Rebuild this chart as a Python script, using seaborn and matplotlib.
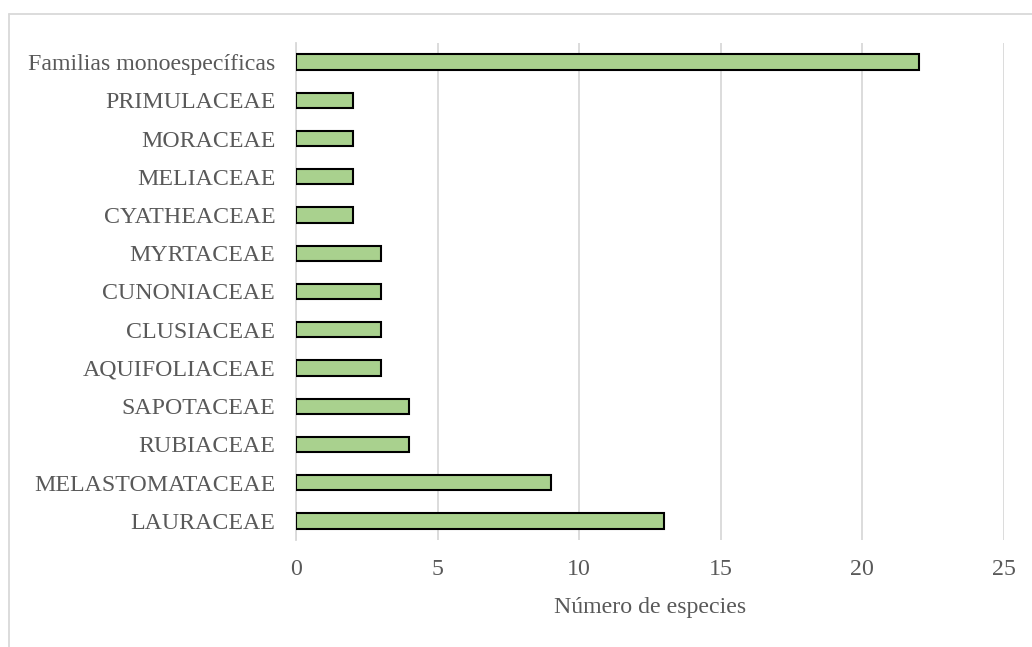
import matplotlib
matplotlib.use("Agg")
import matplotlib.pyplot as plt
from matplotlib.lines import Line2D
import seaborn as sns
import pandas as pd

familias = [
    "Familias monoespecíficas", "PRIMULACEAE", "MORACEAE", "MELIACEAE",
    "CYATHEACEAE", "MYRTACEAE", "CUNONIACEAE", "CLUSIACEAE",
    "AQUIFOLIACEAE", "SAPOTACEAE", "RUBIACEAE", "MELASTOMATACEAE",
    "LAURACEAE",
]
especies = [22, 2, 2, 2, 2, 3, 3, 3, 3, 4, 4, 9, 13]
ticks_x = [0, 5, 10, 15, 20, 25]

df = pd.DataFrame({"familia": familias, "especies": especies})

sns.set_theme(style="white")
plt.rcParams["font.family"] = ["Liberation Serif", "DejaVu Serif"]
texto = "#595959"
rejilla = "#d9d9d9"

W, H = 1032, 647
fig = plt.figure(figsize=(W / 100, H / 100), dpi=100)
ax = fig.add_axes([296 / W, 1 - 540 / H, (1004 - 296) / W, (540 - 43) / H])

sns.barplot(data=df, x="especies", y="familia", order=familias,
            color="#a9d18e", saturation=1, width=0.4,
            edgecolor="black", linewidth=1.5, ax=ax, zorder=3)

ax.set_xlim(0, 25)
ax.set_xticks(ticks_x)
ax.set_xticklabels([str(t) for t in ticks_x])
ax.grid(axis="x", color=rejilla, linewidth=1.3, zorder=0)
ax.set_axisbelow(True)
for s in ["top", "right", "bottom"]:
    ax.spines[s].set_visible(False)
ax.spines["left"].set_color(rejilla)
ax.spines["left"].set_linewidth(1.3)
ax.tick_params(axis="both", length=0, labelsize=17.2, colors=texto)
ax.tick_params(axis="x", pad=14)
ax.tick_params(axis="y", pad=15)
ax.set_ylabel("")
ax.set_xlabel("Número de especies", fontsize=17.2, color=texto, labelpad=12)

# marco exterior del gráfico
fig.add_artist(Line2D([9 / W, 1], [1 - 14 / H, 1 - 14 / H], color=rejilla, linewidth=1.3))
fig.add_artist(Line2D([9 / W, 9 / W], [0, 1 - 14 / H], color=rejilla, linewidth=1.3))

fig.savefig("out.png", dpi=100)
